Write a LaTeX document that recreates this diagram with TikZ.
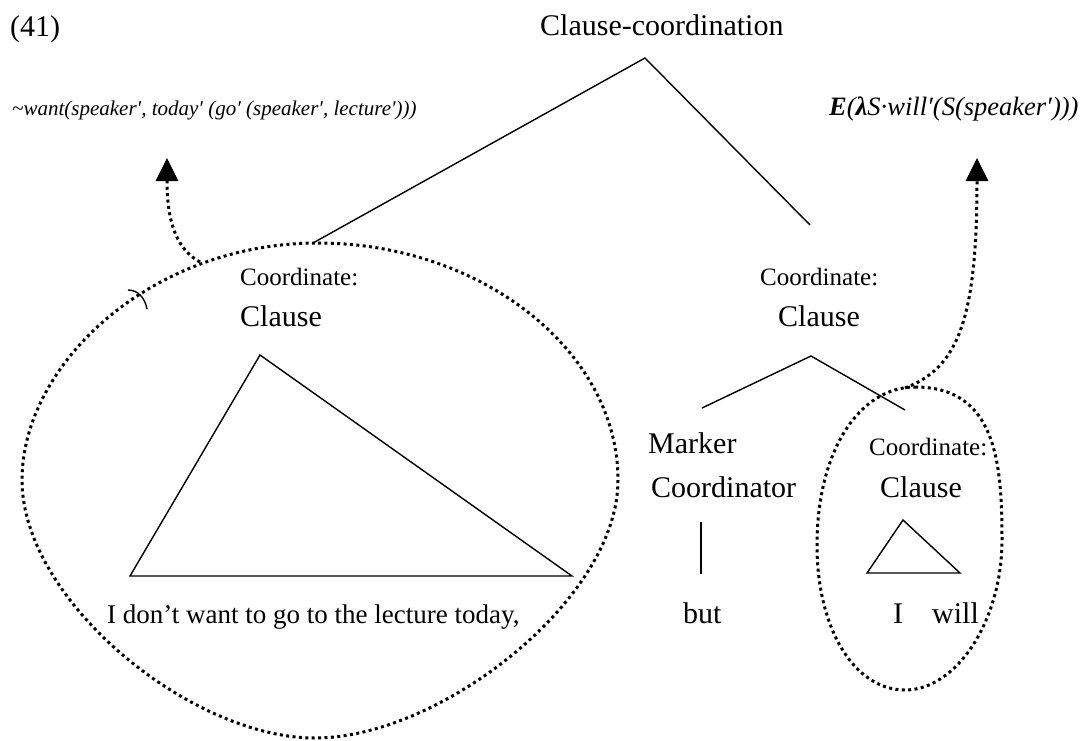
\documentclass[tikz,border=0pt]{standalone}
\usepackage{fontspec}
\setmainfont{Liberation Serif}
\usetikzlibrary{arrows.meta}
\begin{document}
\begin{tikzpicture}[x=1pt,y=-1pt,
  word/.style={inner sep=0pt, anchor=base west, font=\fontsize{30}{34}\selectfont},
  sentence/.style={word, font=\fontsize{27}{31}\selectfont},
  cat/.style={inner sep=0pt, anchor=base west, font=\fontsize{25}{29}\selectfont},
  sem/.style={inner sep=0pt, anchor=base west, font=\fontsize{21}{25}\selectfont\itshape},
  branch/.style={line width=1.4pt},
  ring/.style={line width=3pt, dash pattern=on 3pt off 3.4pt},
  lift/.style={ring, -{Triangle[length=23pt,width=22pt,sep=5pt]}}
]
\useasboundingbox (0,0) rectangle (1087,740);

% labels at the top
\node[word] (num) at (10,36) {(41)};
\node[word] (root) at (540,35) {Clause-coordination};
\node[sem] (semL) at (12,115) {\textasciitilde want(speaker′, today′ (go′ (speaker′, lecture′)))};
\node[sem, font=\fontsize{26.5}{30}\selectfont\itshape] (semR) at (829,115) {\textbf{E}(\textbf{λ}S·will′(S(speaker′)))};

% top branching
\coordinate (rootTip) at (645,58);
\coordinate (leftTop) at (313,243);
\coordinate (rightTop) at (810,225);
\draw[branch] (leftTop) -- (rootTip) -- (rightTop);

% left conjunct
\node[cat] (coordL) at (240,285) {Coordinate:};
\node[word] (clauseL) at (240,326) {Clause};
\coordinate (triA) at (260,355);
\coordinate (triB) at (130,576);
\coordinate (triC) at (572,576);
\draw[branch] (triA) -- (triB) -- (triC) -- cycle;
\node[sentence] (sentL) at (107,623) {I don’t want to go to the lecture today,};

% right conjunct
\node[cat] (coordR) at (760,285) {Coordinate:};
\node[word] (clauseR) at (778,326) {Clause};
\coordinate (splitTip) at (811,356);
\coordinate (splitL) at (702,408);
\coordinate (splitR) at (905,410);
\draw[branch] (splitL) -- (splitTip) -- (splitR);

\node[word] (marker) at (648,453) {Marker};
\node[word] (coordinator) at (651,497) {Coordinator};
\coordinate (stemTop) at (701,522);
\coordinate (stemBot) at (701,574);
\draw[branch] (stemTop) -- (stemBot);
\node[word] (but) at (683,623) {but};

\node[cat] (coordS) at (869,455) {Coordinate:};
\node[word] (clauseS) at (880,497) {Clause};
\coordinate (smA) at (903,520);
\coordinate (smB) at (867,573);
\coordinate (smC) at (960,573);
\draw[branch] (smA) -- (smB) -- (smC) -- cycle;
\node[word] (wI) at (893,623) {I};
\node[word] (wWill) at (932,623) {will};

% dotted enclosures (egg-shaped loops)
\draw[ring] (318,243) .. controls (480,243) and (618,350) .. (618,480)
  .. controls (618,600) and (440,738) .. (315,738)
  .. controls (190,738) and (22,600) .. (22,480)
  .. controls (22,365) and (150,243) .. cycle;
\draw[ring] (915,387) .. controls (996,387) and (1002,462) .. (1002,540)
  .. controls (1002,620) and (957,690) .. (905,690)
  .. controls (855,690) and (817,630) .. (817,545)
  .. controls (817,450) and (860,387) .. cycle;
\draw[branch] (128,290) .. controls (138,290) and (145,298) .. (147,309);

% meaning arrows
\coordinate (ringL) at (200,262);
\coordinate (semLTip) at (167,153);
\coordinate (ringR) at (905,388);
\coordinate (semRTip) at (977,153);
\draw[lift] (ringL) .. controls (178,250) and (167,225) .. (semLTip);
\draw[lift] (ringR) .. controls (958,368) and (977,320) .. (semRTip);
\end{tikzpicture}
\end{document}
